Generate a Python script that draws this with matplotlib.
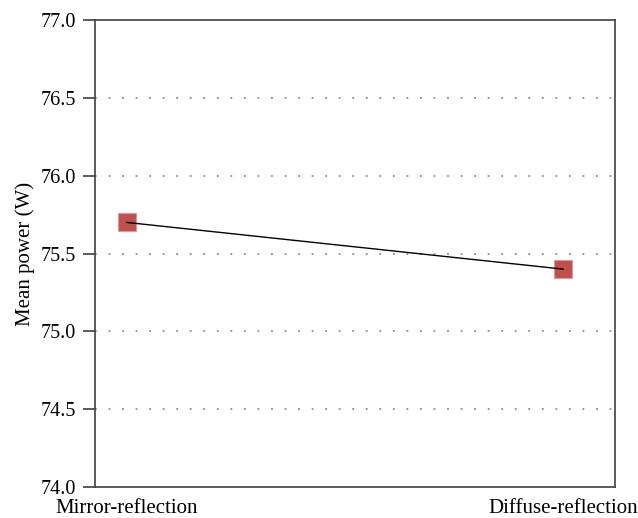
import matplotlib
matplotlib.use("Agg")
import matplotlib.pyplot as plt

categories = ["Mirror-reflection", "Diffuse-reflection"]
mean_power = [75.7, 75.4]
yticks = [74.0, 74.5, 75.0, 75.5, 76.0, 76.5, 77.0]

plt.rcParams["font.family"] = ["Liberation Serif", "DejaVu Serif"]

fig = plt.figure(figsize=(6.38, 5.18), dpi=100)
ax = fig.add_axes([0.149, 0.060, 0.815, 0.901])

x = list(range(len(categories)))
ax.plot(x, mean_power, linestyle="none", marker="s", markersize=13,
        markerfacecolor="#c0504d", markeredgecolor="#dc9a97", markeredgewidth=0.8,
        zorder=3)
ax.plot(x, mean_power, color="black", linewidth=1.0, zorder=4)

ax.set_xlim(-0.073, 1.119)
ax.set_ylim(74.0, 77.0)
ax.set_yticks(yticks)
ax.set_yticklabels([f"{v:.1f}" for v in yticks])
ax.set_xticks(x)
ax.set_xticklabels(categories)

for v in yticks[1:-1]:
    ax.axhline(v, color="#8c8c8c", linestyle=(0, (1, 6.5)), linewidth=1.3, zorder=1)

for s in ax.spines.values():
    s.set_color("#404040")
    s.set_linewidth(1.2)

ax.tick_params(axis="y", direction="out", length=9, width=1.2, color="#404040",
               labelsize=14.5, pad=5)
ax.tick_params(axis="x", length=0, labelsize=15, pad=9)
ax.set_ylabel("Mean power (W)", fontsize=15, labelpad=4)

fig.savefig("out.png", dpi=100)
